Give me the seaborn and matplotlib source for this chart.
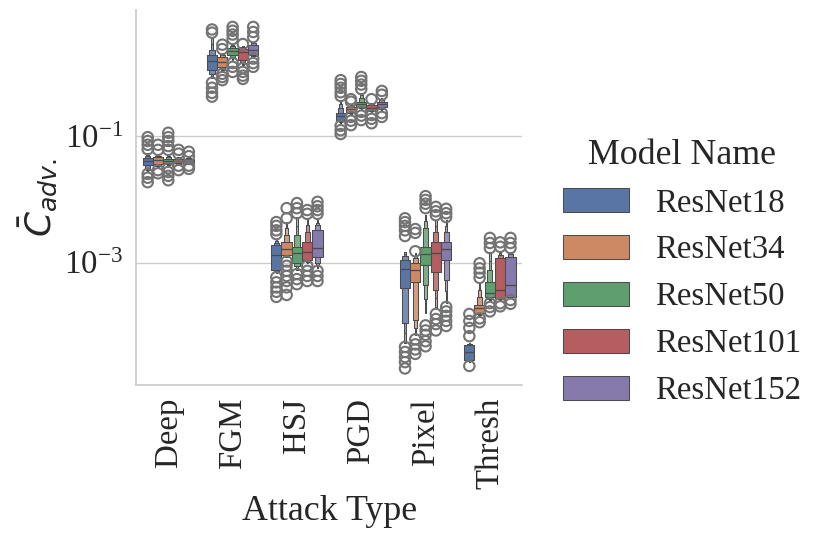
import numpy as np
import pandas as pd
import matplotlib
matplotlib.use("Agg")
import matplotlib.pyplot as plt
from matplotlib.ticker import FixedLocator, NullLocator
import seaborn as sns

# ---- data (log10 of C_adv) ----
attacks = ["Deep", "FGM", "HSJ", "PGD", "Pixel", "Thresh"]
models = ["ResNet18", "ResNet34", "ResNet50", "ResNet101", "ResNet152"]
ytick_values = [1e-3, 1e-1]

# body values per model (9 values each, log10)
deep_body = [
    [-1.57, -1.51, -1.46, -1.43, -1.40, -1.37, -1.35, -1.32, -1.27],
    [-1.49, -1.47, -1.44, -1.41, -1.38, -1.36, -1.33, -1.31, -1.28],
    [-1.47, -1.45, -1.43, -1.41, -1.40, -1.38, -1.36, -1.33, -1.30],
    [-1.45, -1.44, -1.43, -1.41, -1.40, -1.38, -1.37, -1.35, -1.33],
    [-1.45, -1.44, -1.43, -1.41, -1.40, -1.38, -1.37, -1.35, -1.34],
]
fgm_body = [
    [-0.08, -0.02, 0.04, 0.11, 0.19, 0.23, 0.28, 0.36, 0.55],
    [0.01, 0.06, 0.09, 0.13, 0.17, 0.21, 0.25, 0.28, 0.31],
    [0.20, 0.25, 0.28, 0.31, 0.34, 0.37, 0.39, 0.42, 0.45],
    [0.12, 0.16, 0.20, 0.26, 0.33, 0.35, 0.37, 0.40, 0.42],
    [0.25, 0.26, 0.28, 0.32, 0.36, 0.40, 0.44, 0.46, 0.49],
]
hsj_body = [
    [-3.16, -3.13, -3.12, -3.00, -2.88, -2.80, -2.72, -2.69, -2.64],
    [-2.91, -2.90, -2.88, -2.83, -2.79, -2.73, -2.67, -2.56, -2.36],
    [-3.12, -3.05, -3.01, -2.93, -2.85, -2.80, -2.75, -2.56, -2.28],
    [-3.01, -2.98, -2.96, -2.90, -2.83, -2.75, -2.68, -2.52, -2.30],
    [-3.09, -3.01, -2.91, -2.84, -2.77, -2.63, -2.49, -2.41, -2.33],
]
pgd_body = [
    [-0.80, -0.77, -0.75, -0.72, -0.68, -0.66, -0.64, -0.56, -0.43],
    [-0.65, -0.64, -0.62, -0.60, -0.57, -0.56, -0.54, -0.52, -0.49],
    [-0.57, -0.56, -0.54, -0.52, -0.49, -0.48, -0.46, -0.40, -0.32],
    [-0.62, -0.60, -0.59, -0.57, -0.56, -0.53, -0.51, -0.49, -0.48],
    [-0.59, -0.57, -0.54, -0.52, -0.49, -0.48, -0.46, -0.43, -0.40],
]
pixel_body = [
    [-4.27, -3.95, -3.40, -3.25, -3.10, -3.03, -2.96, -2.90, -2.83],
    [-4.14, -3.91, -3.31, -3.21, -3.12, -3.06, -3.01, -2.93, -2.85],
    [-3.80, -3.35, -3.04, -2.95, -2.86, -2.81, -2.75, -2.45, -2.25],
    [-3.70, -3.43, -3.15, -3.00, -2.85, -2.76, -2.67, -2.52, -2.33],
    [-3.64, -3.27, -2.96, -2.87, -2.79, -2.73, -2.67, -2.52, -2.33],
]
thresh_body = [
    [-4.57, -4.55, -4.54, -4.48, -4.41, -4.36, -4.30, -4.29, -4.27],
    [-3.83, -3.81, -3.80, -3.76, -3.72, -3.69, -3.67, -3.54, -3.32],
    [-3.59, -3.57, -3.54, -3.51, -3.48, -3.40, -3.31, -3.12, -2.83],
    [-3.59, -3.58, -3.56, -3.50, -3.43, -3.20, -2.93, -2.88, -2.83],
    [-3.56, -3.55, -3.54, -3.45, -3.35, -3.15, -2.91, -2.86, -2.83],
]

# outlying points per model (log10)
deep_fliers = [
    [-1.02, -1.08, -1.14, -1.21, -1.60, -1.66, -1.73],
    [-1.14, -1.22, -1.54, -1.59],
    [-0.95, -1.02, -1.08, -1.16, -1.22, -1.51, -1.57, -1.63, -1.70],
    [-1.22, -1.28, -1.47, -1.54],
    [-1.25, -1.32, -1.47, -1.52],
]
fgm_fliers = [
    [0.68, 0.63, -0.16, -0.24, -0.32, -0.38],
    [0.44, 0.37, -0.02, -0.07, -0.12],
    [0.72, 0.66, 0.60, 0.53, 0.15, 0.09, 0.01],
    [0.45, 0.07, 0.01, -0.05, -0.10],
    [0.72, 0.64, 0.56, 0.22, 0.15, 0.09],
]
hsj_fliers = [
    [-2.36, -2.42, -2.49, -2.55, -3.23, -3.31, -3.39, -3.46, -3.54],
    [-2.14, -2.30, -2.98, -3.05, -3.13, -3.21, -3.29, -3.39, -3.51],
    [-2.06, -2.14, -2.22, -3.18, -3.26, -3.34],
    [-2.17, -2.23, -3.05, -3.13, -3.21, -3.29],
    [-2.04, -2.11, -2.17, -2.23, -3.13, -3.21, -3.29],
]
pgd_fliers = [
    [-0.12, -0.18, -0.24, -0.31, -0.37, -0.84, -0.91, -0.97],
    [-0.42, -0.46, -0.70, -0.76, -0.83],
    [-0.07, -0.13, -0.19, -0.26, -0.62, -0.68, -0.75],
    [-0.42, -0.67, -0.73, -0.80],
    [-0.29, -0.35, -0.64, -0.70],
]
pixel_fliers = [
    [-2.30, -2.36, -2.42, -2.49, -2.58, -4.33, -4.41, -4.49, -4.57, -4.67],
    [-2.47, -2.53, -2.82, -4.21, -4.29, -4.37, -4.44],
    [-1.95, -2.01, -2.07, -2.14, -3.99, -4.07, -4.14, -4.24, -4.32],
    [-2.12, -2.19, -2.25, -3.81, -3.89, -3.97, -4.07],
    [-2.15, -2.22, -2.28, -3.70, -3.77, -3.84, -3.92, -4.00],
]
thresh_fliers = [
    [-3.81, -3.92, -4.03, -4.16, -4.63],
    [-3.01, -3.09, -3.16, -3.24, -3.88, -3.94],
    [-2.61, -2.69, -2.77, -3.64, -3.70, -3.77],
    [-2.68, -2.75, -3.64, -3.69],
    [-2.61, -2.69, -2.77, -3.59, -3.65],
]

bodies = [deep_body, fgm_body, hsj_body, pgd_body, pixel_body, thresh_body]
fliers = [deep_fliers, fgm_fliers, hsj_fliers, pgd_fliers, pixel_fliers, thresh_fliers]


def to_frame(groups):
    rows = []
    for att, per_model in zip(attacks, groups):
        for mod, vals in zip(models, per_model):
            for v in vals:
                rows.append((att, mod, 10.0 ** v))
    return pd.DataFrame(rows, columns=["Attack Type", "Model Name", "C"])


body_df = to_frame(bodies)
flier_df = to_frame(fliers)

# ---- style ----
sns.set_theme(context="notebook", style="whitegrid", font_scale=2.15)
plt.rcParams["font.family"] = ["Liberation Serif", "DejaVu Serif"]
plt.rcParams["mathtext.fontset"] = "dejavusans"

fig = plt.figure(figsize=(8.3, 5.46), dpi=100)
ax = fig.add_axes([0.164, 0.295, 0.465, 0.687])

sns.boxenplot(data=body_df, x="Attack Type", y="C", hue="Model Name",
              order=attacks, hue_order=models, k_depth="full",
              showfliers=False, log_scale=True, ax=ax)
n_before = len(ax.collections)
sns.stripplot(data=flier_df, x="Attack Type", y="C", hue="Model Name",
              order=attacks, hue_order=models, dodge=True, jitter=False,
              size=7.5, linewidth=1.5, legend=False, ax=ax)
for coll in ax.collections[n_before:]:
    coll.set_facecolor("none")
    coll.set_edgecolor("0.45")

ax.set_ylim(10 ** -4.93, 10 ** 0.99)
ax.yaxis.set_major_locator(FixedLocator(ytick_values))
ax.yaxis.set_minor_locator(NullLocator())
ax.set_xlabel("Attack Type")
ax.set_ylabel(r"$\bar{C}_{adv.}$")
ax.tick_params(axis="x", rotation=90)
sns.despine(ax=ax)
ax.xaxis.grid(False)

sns.move_legend(ax, "center left", bbox_to_anchor=(1.03, 0.30),
                frameon=False, title="Model Name",
                handlelength=2.0, handleheight=0.75, labelspacing=0.5)

fig.savefig("out.png", dpi=100)
